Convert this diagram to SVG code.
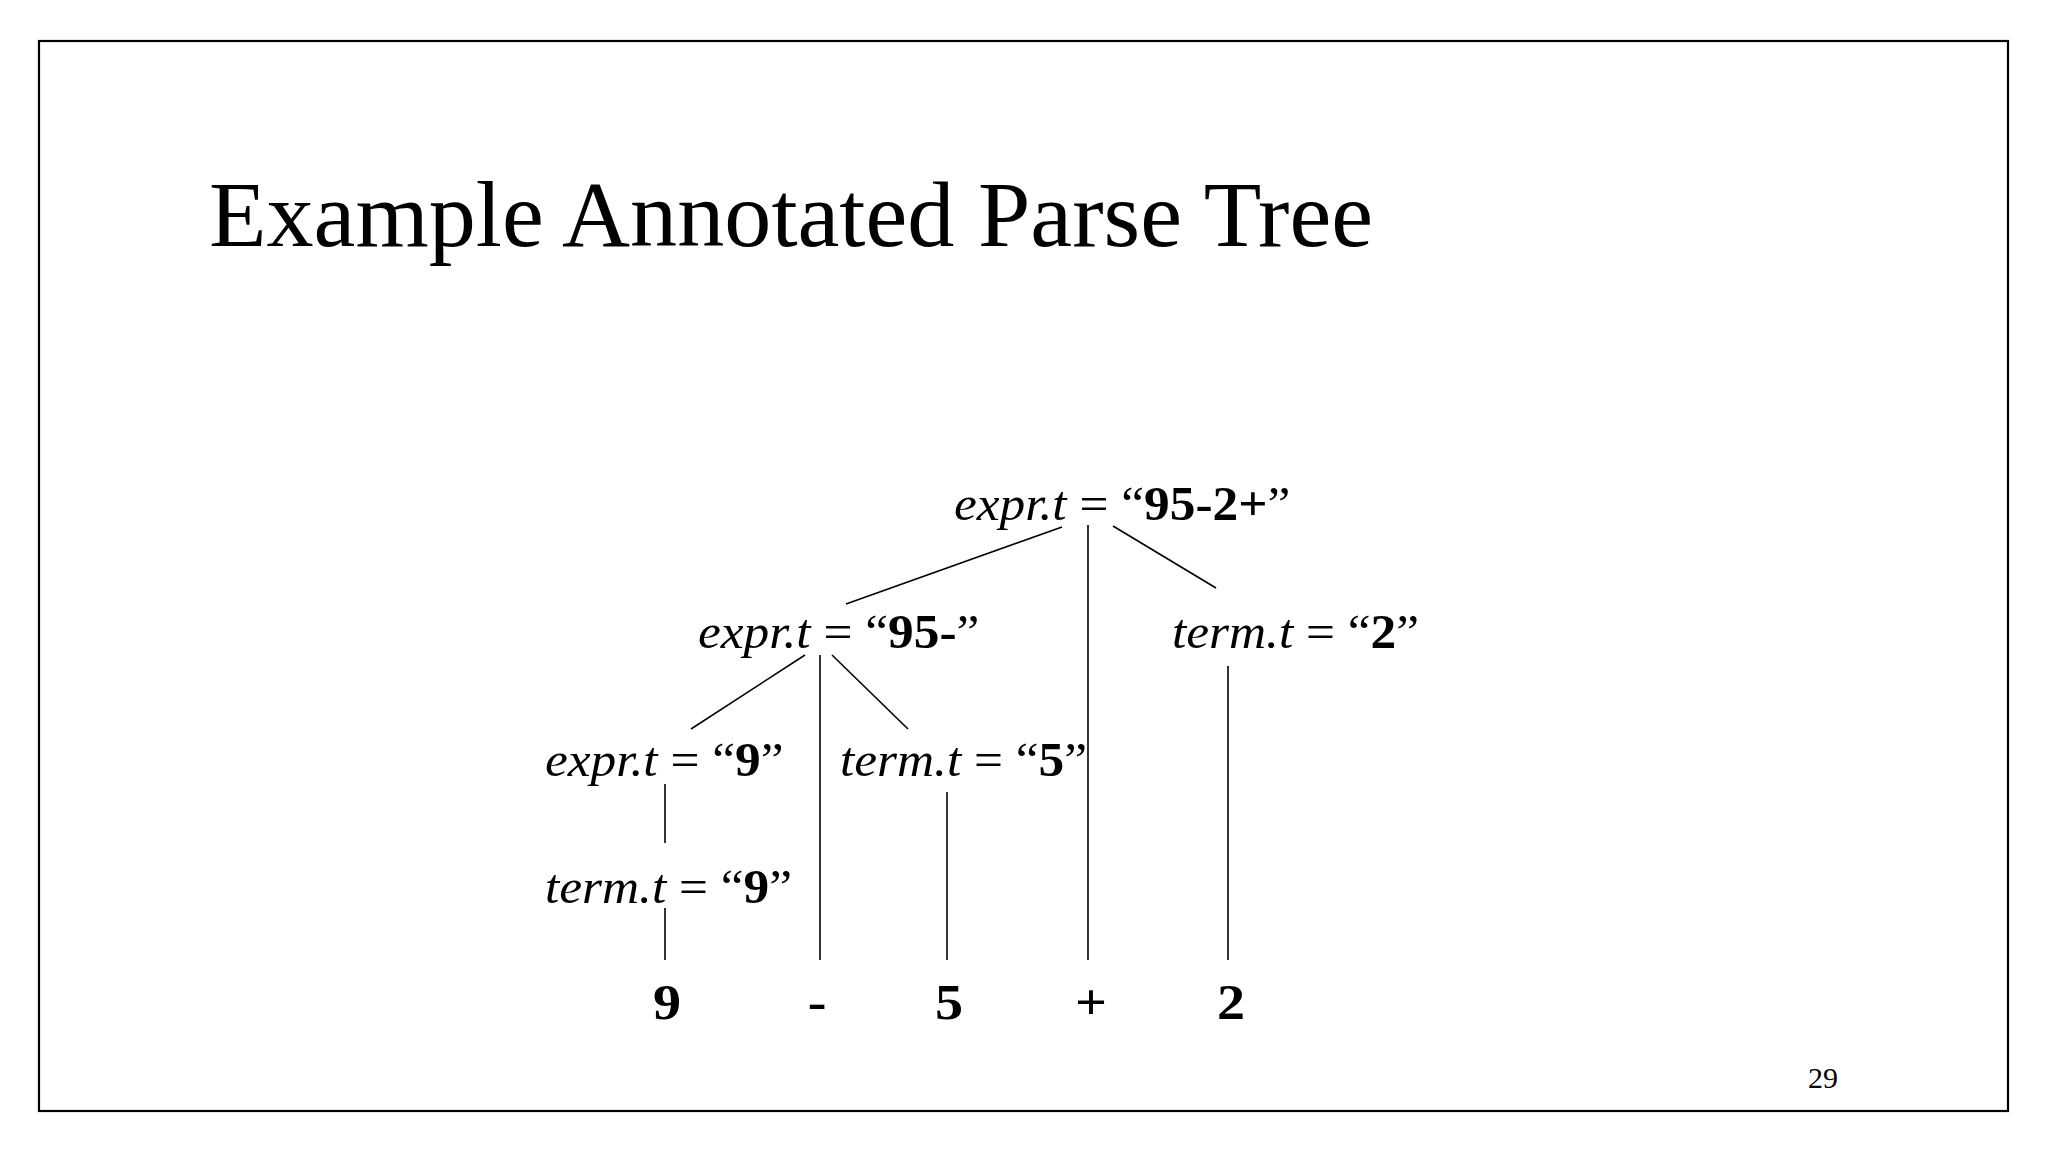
<svg xmlns="http://www.w3.org/2000/svg" width="2048" height="1152" viewBox="0 0 2048 1152">
<style>
.t{font-family:"Liberation Serif","Times New Roman",serif;fill:#000}
.lbl{font-size:48px}
.tok{font-size:51px;font-weight:bold;text-anchor:middle}
.i{font-style:italic}
.b{font-weight:bold}
.e line{stroke:#000;stroke-width:1.6}
</style>
<rect x="0" y="0" width="2048" height="1152" fill="#fff"/>
<rect x="39" y="41" width="1969" height="1070" fill="#fff" stroke="#000" stroke-width="2.2"/>
<text class="t" x="209" y="246" font-size="94" textLength="1164" lengthAdjust="spacingAndGlyphs">Example Annotated Parse Tree</text>
<text class="t" x="1808" y="1088" font-size="30">29</text>
<g id="connectors" class="e">
<line x1="1062" y1="527" x2="846" y2="604"/>
<line x1="1088" y1="525" x2="1088" y2="960"/>
<line x1="1113" y1="526" x2="1216" y2="588"/>
<line x1="805" y1="655" x2="691" y2="729"/>
<line x1="820" y1="655" x2="820" y2="960"/>
<line x1="832" y1="655" x2="908" y2="729"/>
<line x1="1228" y1="666" x2="1228" y2="960"/>
<line x1="665" y1="784" x2="665" y2="843"/>
<line x1="665" y1="908" x2="665" y2="960"/>
<line x1="947" y1="792" x2="947" y2="960"/>
</g>
<g id="n_root"><text class="t lbl" transform="translate(954,520) scale(1.07,1)"><tspan class="i">expr.t</tspan> = “<tspan class="b">95-2+</tspan>”</text></g>
<g id="n_expr95"><text class="t lbl" transform="translate(698,648) scale(1.07,1)"><tspan class="i">expr.t</tspan> = “<tspan class="b">95-</tspan>”</text></g>
<g id="n_term2"><text class="t lbl" transform="translate(1172,648) scale(1.07,1)"><tspan class="i">term.t</tspan> = “<tspan class="b">2</tspan>”</text></g>
<g id="n_expr9"><text class="t lbl" transform="translate(545,776) scale(1.07,1)"><tspan class="i">expr.t</tspan> = “<tspan class="b">9</tspan>”</text></g>
<g id="n_term5"><text class="t lbl" transform="translate(840,776) scale(1.07,1)"><tspan class="i">term.t</tspan> = “<tspan class="b">5</tspan>”</text></g>
<g id="n_term9"><text class="t lbl" transform="translate(545,903) scale(1.07,1)"><tspan class="i">term.t</tspan> = “<tspan class="b">9</tspan>”</text></g>
<g id="tok_9"><text class="t tok" transform="translate(667,1019) scale(1.1,1)">9</text></g>
<g id="tok_minus"><text class="t tok" transform="translate(817,1019) scale(1.1,1)">-</text></g>
<g id="tok_5"><text class="t tok" transform="translate(949,1019) scale(1.1,1)">5</text></g>
<g id="tok_plus"><text class="t tok" transform="translate(1091,1019) scale(1.1,1)">+</text></g>
<g id="tok_2"><text class="t tok" transform="translate(1231,1019) scale(1.1,1)">2</text></g>
</svg>
